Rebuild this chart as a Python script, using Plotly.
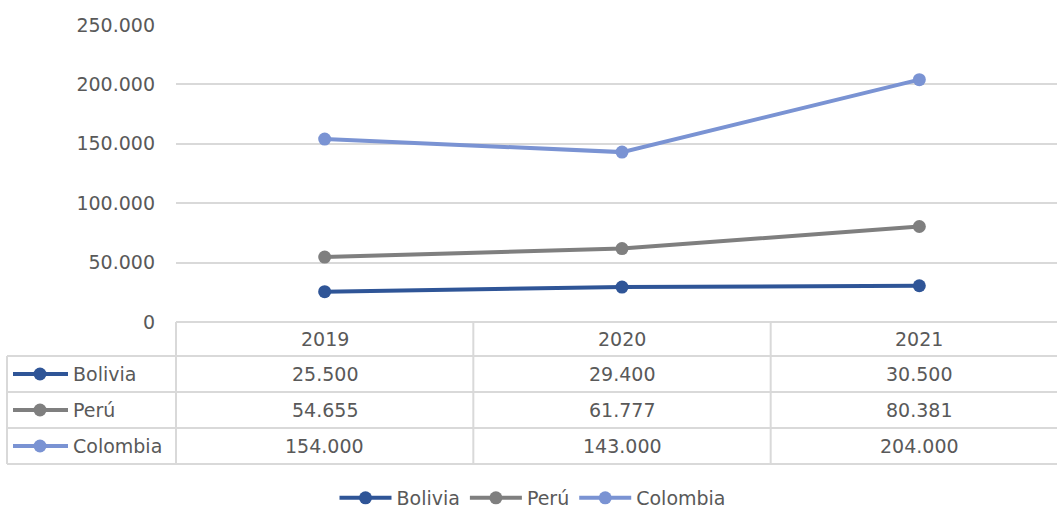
import plotly.graph_objects as go

years = ["2019", "2020", "2021"]
series_names = ["Bolivia", "Perú", "Colombia"]
bolivia = [25500, 29400, 30500]
peru = [54655, 61777, 80381]
colombia = [154000, 143000, 204000]
series_values = [bolivia, peru, colombia]
colors = ["#2F5597", "#7F7F7F", "#7A93D3"]
y_ticks = [0, 50000, 100000, 150000, 200000, 250000]

W, H = 1057, 508
L, R, T, B = 176, 0, 25, 186
PW = W - L - R
PH = H - T - B

def px_x(p):
    return (p - L) / PW

def px_y(p):
    return (H - B - p) / PH

def fmt(v):
    return f"{v:,}".replace(",", ".")

TXT = "#595959"
FONT = "DejaVu Sans"
FS = 19
GRID = "#D9D9D9"

fig = go.Figure()
for name, vals, c in zip(series_names, series_values, colors):
    fig.add_trace(go.Scatter(
        x=years, y=vals, name=name, mode="lines+markers",
        line=dict(color=c, width=4), marker=dict(color=c, size=13),
        cliponaxis=False,
    ))

shapes = []
annotations = []
row_edges = [322, 356, 392, 428, 464]
line_style = dict(color=GRID, width=2)
shapes.append(dict(type="line", xref="paper", yref="paper",
                   x0=px_x(176), x1=1, y0=px_y(322), y1=px_y(322), line=line_style))
for yy in row_edges[1:]:
    shapes.append(dict(type="line", xref="paper", yref="paper",
                       x0=px_x(7), x1=1, y0=px_y(yy), y1=px_y(yy), line=line_style))
shapes.append(dict(type="line", xref="paper", yref="paper",
                   x0=px_x(7), x1=px_x(7), y0=px_y(356), y1=px_y(464), line=line_style))
shapes.append(dict(type="line", xref="paper", yref="paper",
                   x0=px_x(176), x1=px_x(176), y0=px_y(322), y1=px_y(464), line=line_style))
for xb in [0.5, 1.5, 2.5]:
    shapes.append(dict(type="line", xref="x", yref="paper",
                       x0=xb, x1=xb, y0=px_y(322), y1=px_y(464), line=line_style))

hdr_c = (row_edges[0] + row_edges[1]) / 2
for j, yr in enumerate(years):
    annotations.append(dict(x=j, y=px_y(hdr_c), xref="x", yref="paper",
                            text=yr, showarrow=False, xanchor="center", yanchor="middle",
                            font=dict(family=FONT, size=FS, color=TXT)))
for i, (name, vals, c) in enumerate(zip(series_names, series_values, colors)):
    cy = (row_edges[i + 1] + row_edges[i + 2]) / 2
    shapes.append(dict(type="line", xref="paper", yref="paper",
                       x0=px_x(13), x1=px_x(68), y0=px_y(cy), y1=px_y(cy),
                       line=dict(color=c, width=4)))
    r = 6.5
    shapes.append(dict(type="circle", xref="paper", yref="paper",
                       x0=px_x(40 - r), x1=px_x(40 + r), y0=px_y(cy + r), y1=px_y(cy - r),
                       fillcolor=c, line=dict(width=0)))
    annotations.append(dict(x=px_x(71), y=px_y(cy), xref="paper", yref="paper",
                            text=name, showarrow=False, xanchor="left", yanchor="middle",
                            font=dict(family=FONT, size=FS, color=TXT)))
    for j, v in enumerate(vals):
        annotations.append(dict(x=j, y=px_y(cy), xref="x", yref="paper",
                                text=fmt(v), showarrow=False, xanchor="center", yanchor="middle",
                                font=dict(family=FONT, size=FS, color=TXT)))

fig.update_layout(
    width=W, height=H,
    margin=dict(l=L, r=R, t=T, b=B),
    paper_bgcolor="white", plot_bgcolor="white",
    separators=",.",
    font=dict(family=FONT, size=FS, color=TXT),
    showlegend=True,
    legend=dict(orientation="h", xref="container", yref="container",
                x=533 / W, xanchor="center",
                y=(H - 498) / H, yanchor="middle",
                font=dict(family=FONT, size=FS, color=TXT),
                itemwidth=52, tracegroupgap=0),
    shapes=shapes, annotations=annotations,
    xaxis=dict(type="category", range=[-0.5, 2.5 - (1068 - 1057) / 297.3],
               showticklabels=False, showgrid=False, zeroline=False, showline=False,
               fixedrange=True),
    yaxis=dict(range=[0, 250000], tickvals=y_ticks, tickformat=",d",
               showgrid=True, gridcolor=GRID, gridwidth=1.5,
               zeroline=False, showline=False, ticks="",
               ticklabelstandoff=20, automargin=False,
               tickfont=dict(family=FONT, size=FS, color=TXT)),
)

fig.write_html("out.html", config={"displayModeBar": False},
               post_script="document.body.style.margin='0';")
